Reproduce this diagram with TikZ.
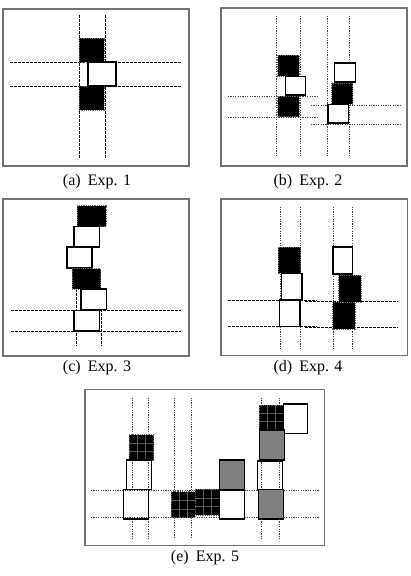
\documentclass[tikz,border=0pt]{standalone}
\usepackage{fontspec}
\setmainfont{Liberation Serif}
\begin{document}
\begin{tikzpicture}[x=1pt,y=-1pt,
  frame/.style={draw=black!55,line width=1.2pt},
  dsh/.style={black,line width=0.8pt,dash pattern=on 2.5pt off 1.5pt},
  dtt/.style={black!75,line width=1pt,dash pattern=on 1.2pt off 1.2pt},
  wsq/.style={draw=black,fill=white,line width=1.4pt},
  wsqo/.style={draw=black,line width=1.4pt},
  bsq/.style={fill=black,draw=black!60,line width=0.8pt,dash pattern=on 1.2pt off 1pt},
  gsq/.style={draw=black,fill=black!50,line width=1.4pt},
  captext/.style={font=\fontsize{16}{19}\selectfont,inner sep=0pt},
  gridsq/.pic={
    \fill[black] (0,0) rectangle (1,1);
    \draw[black!65,line width=0.6pt] (1/3,0)--(1/3,1) (2/3,0)--(2/3,1) (0,1/3)--(1,1/3) (0,2/3)--(1,2/3);
    \draw[black!60,line width=0.8pt,dash pattern=on 1.2pt off 1pt] (0,0) rectangle (1,1);
  }]
\useasboundingbox (0,0) rectangle (410,576);
\fill[white] (0,0) rectangle (410,576);

% ---------- (a) ----------
\draw[frame] (3,9) rectangle (189,166);
\draw[dsh] (79,15)--(79,158) (105,15)--(105,158);
\draw[dsh] (10,62)--(181,62) (10,86)--(181,86);
\draw[bsq] (79,38) rectangle (104,62);
\draw[bsq] (79,86) rectangle (104,110);
\draw[wsq] (88,62) rectangle (116,86);
\node[captext] (capa) at (97,182) {(a)\hspace{0.45em}Exp. 1};

% ---------- (b) ----------
\draw[frame] (221,8) rectangle (407,166);
\draw[dtt] (276.5,16)--(276.5,157) (300,16)--(300,157) (327.5,16)--(327.5,157) (349,16)--(349,157);
\draw[dtt] (228,96)--(317,96) (228,117.5)--(317,117.5);
\draw[dtt] (311,105)--(400,105) (311,124)--(400,124);
\draw[bsq] (277.5,55) rectangle (299,76);
\draw[wsq] (285.5,76.5) rectangle (305.5,95);
\draw[bsq] (277.5,96) rectangle (299,116.5);
\draw[wsq] (334.5,63) rectangle (355.5,82);
\draw[bsq] (331.5,83) rectangle (352.5,104);
\draw[wsq] (328,104.5) rectangle (348.5,123);
\node[captext] (capb) at (308,182) {(b)\hspace{0.45em}Exp. 2};

% ---------- (c) ----------
\draw[frame] (3,199) rectangle (189,356);
\draw[dsh] (76,289)--(76,346) (101,289)--(101,346);
\draw[dsh] (11,310.5)--(181,310.5) (11,331)--(181,331);
\draw[bsq] (77,205.5) rectangle (106,226.5);
\draw[wsq] (74,226.5) rectangle (99.5,247);
\draw[wsq] (67,247) rectangle (92,268);
\draw[bsq] (72,268.5) rectangle (100.5,289);
\draw[wsq] (81,289) rectangle (106.5,309.5);
\draw[wsq] (74,310.5) rectangle (99.5,331);
\node[captext] (capc) at (97,368) {(c)\hspace{0.45em}Exp. 3};

% ---------- (d) ----------
\draw[frame] (221,199) rectangle (407.5,355.5);
\draw[dtt] (280.5,206.5)--(280.5,350) (300.5,206.5)--(300.5,350) (333,206.5)--(333,350) (352.5,206.5)--(352.5,350);
\draw[dsh] (228,300)--(317,300) (228,326.5)--(317,326.5);
\draw[dsh] (305,301.5)--(398,301.5) (305,327.5)--(398,327.5);
\draw[bsq] (278,247) rectangle (300.5,273);
\draw[wsq] (281.5,273.5) rectangle (302,299.5);
\draw[wsq] (279.5,300) rectangle (300,326.5);
\draw[wsq] (333,247) rectangle (352.5,274);
\draw[bsq] (338.5,275) rectangle (361,302);
\draw[bsq] (332.5,302) rectangle (355,329);
\node[captext] (capd) at (308,368) {(d)\hspace{0.45em}Exp. 4};

% ---------- (e) ----------
\draw[frame] (85,389.5) rectangle (324.5,545.5);
\draw[gsq] (219.3,460) rectangle (244.3,490);
\draw[gsq] (259.3,430) rectangle (284.3,460);
\draw[gsq] (258.3,489.3) rectangle (283.7,519);
\draw[dtt] (132.7,397.5)--(132.7,489.3) (148.3,397.5)--(148.3,489.3)
           (132.7,519)--(132.7,538.5) (148.3,519)--(148.3,538.5);
\draw[dtt] (174.3,397.5)--(174.3,538.5) (191.7,397.5)--(191.7,538.5);
\draw[dtt] (261.7,397.5)--(261.7,430) (279,397.5)--(279,430)
           (261.7,460)--(261.7,489.3) (279,460)--(279,489.3)
           (261.7,519)--(261.7,538.5) (279,519)--(279,538.5);
\draw[dtt] (91,490)--(219.3,490) (244.3,490)--(258.3,490) (283.7,490)--(318.5,490);
\draw[dtt] (91,517)--(219.3,517) (244.3,517)--(258.3,517) (283.7,517)--(318.5,517);
\pic[xscale=24.4,yscale=25.3] at (129.3,434.7) {gridsq};
\draw[wsqo] (126.7,460) rectangle (151.7,489.3);
\draw[wsqo] (123.3,489.3) rectangle (148.3,519);
\pic[xscale=24,yscale=26] at (171,491.7) {gridsq};
\pic[xscale=24.3,yscale=25.7] at (195,489.3) {gridsq};
\draw[wsqo] (219.3,490) rectangle (244.3,519);
\pic[xscale=24.7,yscale=25] at (259,405) {gridsq};
\draw[wsq] (283.7,404) rectangle (307.7,433.7);
\draw[gsq] (259.3,430) rectangle (284.3,460);
\draw[wsqo] (257.3,461) rectangle (282.3,489.3);
\node[captext] (cape) at (205,558) {(e)\hspace{0.45em}Exp. 5};
\end{tikzpicture}
\end{document}
